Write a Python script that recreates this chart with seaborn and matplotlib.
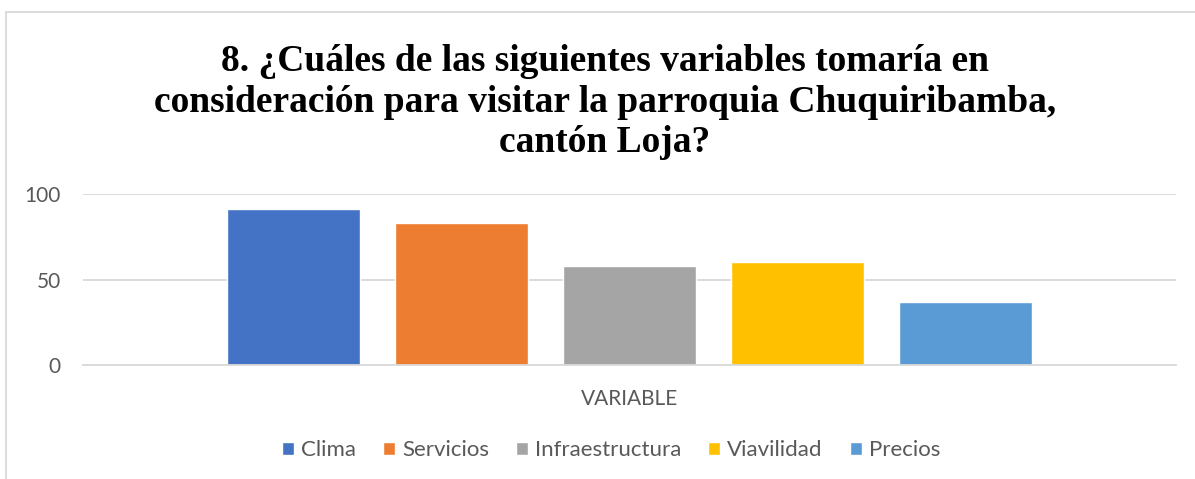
import matplotlib
matplotlib.use("Agg")
import matplotlib.pyplot as plt
from matplotlib.lines import Line2D
import seaborn as sns
import pandas as pd

# datos
categorias = ["Clima", "Servicios", "Infraestructura", "Viavilidad", "Precios"]
valores = [91, 83, 58, 60, 37]
colores = ["#4472C4", "#ED7D31", "#A5A5A5", "#FFC000", "#5B9BD5"]
grupo = ["VARIABLE"] * len(categorias)
y_ticks = [0, 50, 100]

titulo = ("8. ¿Cuáles de las siguientes variables tomaría en\n"
          "consideración para visitar la parroquia Chuquiribamba,\n"
          "cantón Loja?")

df = pd.DataFrame({"grupo": grupo, "variable": categorias, "valor": valores})

sns.set_theme(style="white")
plt.rcParams["font.family"] = ["Lato", "DejaVu Sans"]

W, H = 1195, 479
fig = plt.figure(figsize=(W / 100, H / 100), dpi=100)
ax = fig.add_axes([83 / W, 1 - 365 / H, (1176 - 83) / W, (365 - 194) / H])

sns.barplot(data=df, x="grupo", y="valor", hue="variable",
            palette=colores, hue_order=categorias,
            width=0.768, gap=0.208, saturation=1, ax=ax)

ax.set_ylim(0, 100)
ax.set_xlim(-0.5, 0.5)
ax.set_yticks(y_ticks)
ax.yaxis.grid(True, color="#D9D9D9", linewidth=1.3)
ax.set_axisbelow(True)
for s in ["top", "right", "left"]:
    ax.spines[s].set_visible(False)
ax.spines["bottom"].set_color("#D9D9D9")
ax.spines["bottom"].set_linewidth(1.3)
ax.tick_params(axis="both", length=0, labelsize=15, labelcolor="#595959")
ax.tick_params(axis="y", pad=16)
ax.tick_params(axis="x", pad=17)
ax.set_xlabel("")
ax.set_ylabel("")

sns.move_legend(ax, "center", bbox_to_anchor=(0.483, -0.50), ncol=5,
                frameon=False, title=None, fontsize=16,
                handlelength=0.55, handleheight=0.55,
                handletextpad=0.32, columnspacing=1.2)
for t in ax.get_legend().get_texts():
    t.set_color("#595959")

fig.text(605 / W, 1 - 152 / H, titulo, ha="center", va="baseline",
         fontsize=27, fontweight="bold", family="Liberation Serif",
         linespacing=1.2, color="black")

# marco del área del gráfico
fig.add_artist(Line2D([6.5 / W, 6.5 / W], [0, 1 - 12 / H],
                      transform=fig.transFigure, color="#D9D9D9", lw=1.3))
fig.add_artist(Line2D([6.5 / W, 1], [1 - 12 / H, 1 - 12 / H],
                      transform=fig.transFigure, color="#D9D9D9", lw=1.3))

fig.savefig("out.png", dpi=100)
